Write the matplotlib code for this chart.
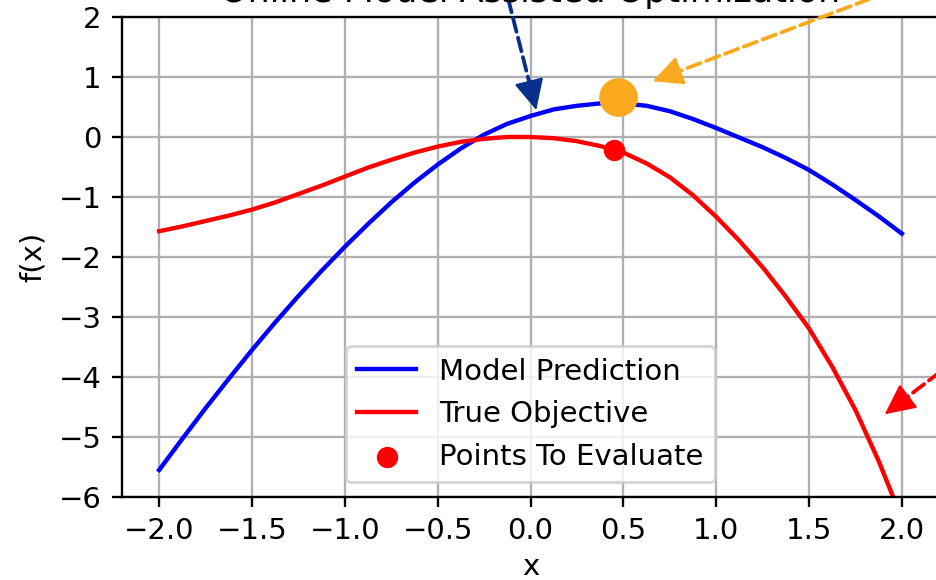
import matplotlib
matplotlib.use("Agg")
import matplotlib.pyplot as plt

# ---- data ----
x_vals = [-2.0, -1.875, -1.75, -1.625, -1.5, -1.375, -1.25, -1.125, -1.0,
          -0.875, -0.75, -0.625, -0.5, -0.375, -0.25, -0.125, 0.0,
          0.125, 0.25, 0.375, 0.5, 0.625, 0.75, 0.875, 1.0,
          1.125, 1.25, 1.375, 1.5, 1.625, 1.75, 1.875, 2.0]

model_pred = [-5.55, -5.03, -4.52, -4.03, -3.55, -3.09, -2.65, -2.23, -1.83,
              -1.45, -1.09, -0.76, -0.46, -0.19, 0.04, 0.22, 0.35,
              0.46, 0.52, 0.56, 0.56, 0.52, 0.43, 0.30, 0.15,
              -0.01, -0.17, -0.35, -0.55, -0.79, -1.05, -1.32, -1.61]

true_obj = [-1.57, -1.49, -1.40, -1.31, -1.21, -1.09, -0.95, -0.81, -0.66,
            -0.51, -0.38, -0.26, -0.16, -0.08, -0.03, 0.0, 0.0,
            -0.02, -0.07, -0.15, -0.26, -0.44, -0.67, -0.97, -1.33,
            -1.73, -2.17, -2.66, -3.19, -3.83, -4.55, -5.40, -6.36]

eval_x = [0.45]
eval_y = [-0.22]

best_x = [0.47]
best_y = [0.67]

title = "Online Model Assisted Optimization"
x_ticks = [-2.0, -1.5, -1.0, -0.5, 0.0, 0.5, 1.0, 1.5, 2.0]
y_ticks = [-6, -5, -4, -3, -2, -1, 0, 1, 2]

# arrows: (tip, tail, color)
arrows = [((0.031, 0.45), (-0.20, 3.28), "#06308c"),
          ((0.658, 0.93), (2.636, 3.25), "#FBAA20"),
          ((1.908, -4.62), (2.636, -2.90), "red")]

# ---- figure ----
DPI = 210
fig = plt.figure(figsize=(936 / DPI, 580 / DPI), dpi=DPI)
ax = fig.add_axes([122 / 936, (580 - 497) / 580, 817 / 936, (497 - 17) / 580])

ax.plot(x_vals, model_pred, color="blue", lw=1.5, label="Model Prediction")
ax.plot(x_vals, true_obj, color="red", lw=1.5, label="True Objective")
ax.scatter(eval_x, eval_y, color="red", s=40, zorder=3, label="Points To Evaluate")
ax.scatter(best_x, best_y, color="#FBAA20", s=150, zorder=4)

for tip, tail, col in arrows:
    # dashed shaft
    ax.annotate("", xy=tip, xytext=tail, xycoords="data", textcoords="data",
                annotation_clip=False,
                arrowprops=dict(arrowstyle="-", color=col, lw=1.3, ls="--",
                                shrinkA=0, shrinkB=8))
    # solid head
    near = (tip[0] + 0.02 * (tail[0] - tip[0]), tip[1] + 0.02 * (tail[1] - tip[1]))
    ax.annotate("", xy=tip, xytext=near, xycoords="data", textcoords="data",
                annotation_clip=False,
                arrowprops=dict(arrowstyle="-|>,head_length=0.45,head_width=0.22",
                                color=col, lw=0.8, ls="-",
                                mutation_scale=20, shrinkA=0, shrinkB=0))

ax.set_xlim(-2.2, 2.2)
ax.set_ylim(-6, 2)
ax.set_xticks(x_ticks)
ax.set_yticks(y_ticks)
ax.grid(True)
ax.set_xlabel("x", labelpad=2.5)
ax.set_ylabel("f(x)")
ax.set_title(title, fontsize=12, pad=5.3)
ax.legend(loc="lower center")

fig.savefig("out.png", dpi=DPI)
